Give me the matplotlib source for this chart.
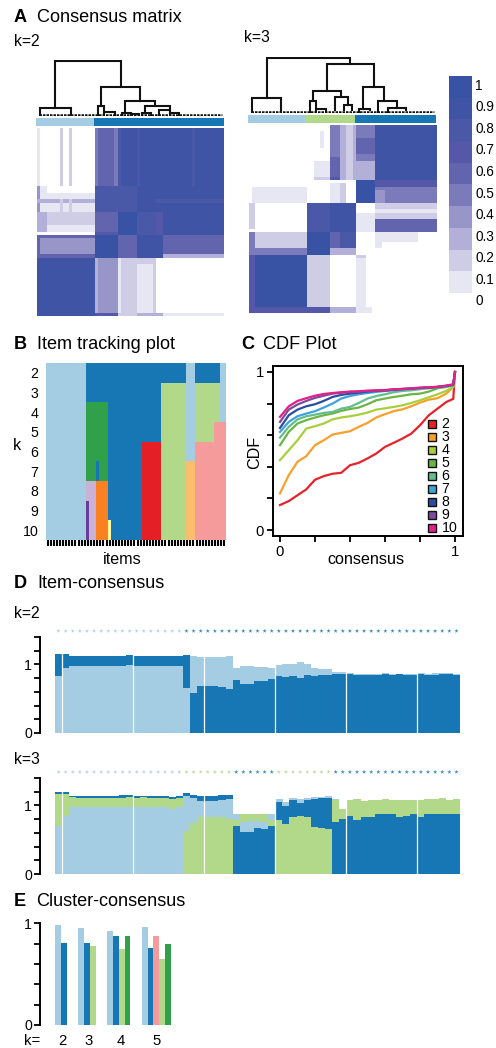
import numpy as np
import matplotlib
matplotlib.use("Agg")
import matplotlib.pyplot as plt
from matplotlib.colors import ListedColormap
from matplotlib.patches import Rectangle

plt.rcParams['font.family'] = ['Liberation Sans', 'DejaVu Sans']

W, H = 496, 1048

# cluster colours
LIGHT = "#a4cde3"
BLUE = "#1677b4"
GREEN = "#b2d88a"
DKGREEN = "#31a04a"
PINK = "#f69b9b"
RED = "#e41f26"
LTORANGE = "#fdbd6e"
ORANGE = "#f98121"
LILAC = "#c9b2d6"
PURPLE = "#6a3d9a"
YELLOW = "#fdf59c"
PALETTE = {"a": LIGHT, "b": BLUE, "c": GREEN, "d": DKGREEN, "e": PINK, "f": RED,
           "g": LTORANGE, "h": ORANGE, "i": LILAC, "j": PURPLE, "k": YELLOW}

# heatmap levels 0..10 (tenths of consensus)
HEAT_COLORS = ["#ffffff", "#e7e6f3", "#cfcde6", "#b2b0d8", "#9896c9", "#7b7abb",
               "#6364ae", "#5558a8", "#4a58a8", "#3f54a5", "#3953a4"]
legend_ticks = ["1", "0.9", "0.8", "0.7", "0.6", "0.5", "0.4", "0.3", "0.2", "0.1", "0"]

# consensus blocks: first row, last row, first col, last col, level
blocks_k2 = [
    (0, 18, 0, 1, 1), (0, 18, 7, 8, 2), (0, 18, 10, 11, 2), (0, 18, 18, 25, 6), (0, 18, 18, 19, 5),
    (0, 18, 24, 25, 5), (0, 18, 25, 58, 9), (0, 18, 25, 26, 8), (0, 18, 31, 32, 8), (0, 18, 48, 49, 8),
    (18, 26, 0, 1, 4), (18, 20, 1, 3, 1), (20, 26, 1, 18, 1),
    (22, 23, 0, 18, 3), (22, 26, 7, 8, 2), (22, 26, 10, 11, 2),
    (18, 26, 18, 25, 8), (18, 26, 25, 37, 8), (18, 26, 31, 37, 9), (18, 26, 37, 58, 9), (22, 23, 37, 58, 8),
    (26, 32, 0, 18, 2), (26, 32, 0, 3, 3), (30, 32, 3, 18, 1), (26, 33, 18, 25, 6), (26, 33, 25, 31, 10),
    (26, 33, 31, 37, 8), (26, 33, 37, 39, 7), (26, 33, 39, 58, 9),
    (33, 40, 0, 18, 4), (33, 34, 0, 18, 6), (39, 40, 0, 18, 6), (33, 40, 0, 1, 6),
    (33, 40, 18, 25, 10), (33, 40, 25, 31, 6), (33, 40, 31, 39, 9), (33, 40, 39, 58, 6),
    (39, 40, 39, 58, 3), (32, 33, 18, 25, 7),
    (40, 58, 0, 18, 9), (40, 57, 18, 19, 3), (40, 57, 19, 25, 4), (40, 57, 25, 26, 1),
    (40, 57, 26, 31, 2), (40, 57, 31, 36, 1), (40, 57, 36, 37, 2), (40, 42, 26, 36, 2),
    (57, 58, 18, 25, 7), (57, 58, 25, 31, 2), (57, 58, 31, 39, 3), (57, 58, 39, 58, 1),
]
blocks_k3 = [
    (2, 7, 22, 23, 1), (11, 17, 20, 25, 1), (0, 10, 25, 28, 5), (10, 16, 25, 28, 6), (16, 17, 25, 28, 7),
    (0, 17, 28, 33, 3), (0, 17, 30, 32, 2), (0, 17, 33, 39, 5), (4, 9, 33, 39, 6), (11, 17, 33, 39, 3),
    (0, 17, 39, 58, 9), (16, 17, 20, 25, 2),
    (19, 24, 1, 18, 1), (18, 24, 25, 28, 1), (18, 24, 28, 30, 2), (17, 24, 33, 39, 10),
    (17, 24, 39, 58, 5), (20, 24, 39, 42, 4), (17, 19, 39, 58, 7),
    (24, 32, 0, 2, 2), (24, 33, 18, 25, 8), (24, 33, 25, 33, 9), (27, 33, 33, 39, 1),
    (24, 29, 39, 58, 2), (26, 27, 39, 58, 1), (29, 33, 39, 58, 6),
    (33, 40, 0, 2, 5), (33, 39, 2, 18, 2), (33, 40, 18, 25, 10), (33, 40, 25, 28, 6), (33, 40, 28, 33, 8),
    (33, 36, 41, 52, 1), (33, 38, 39, 41, 1), (38, 40, 0, 18, 5), (38, 40, 25, 33, 3),
    (40, 58, 0, 2, 7), (40, 58, 2, 18, 10), (40, 58, 18, 25, 2), (40, 41, 33, 36, 2), (41, 56, 33, 36, 1),
    (56, 58, 0, 18, 7), (56, 58, 18, 25, 7), (56, 58, 25, 33, 3), (56, 58, 33, 38, 1),
]

# column strip above each matrix: cluster, number of items
strip_k2 = [(LIGHT, 18), (BLUE, 40)]
strip_k3 = [(LIGHT, 18), (GREEN, 15), (BLUE, 25)]

# dendrogram merges: left x, right x, height, height of left leg, height of right leg
tree_k2 = [
    (5.7, 25.9, 1.0, 0.136, 0.506), (1.0, 10.5, 0.136, 0.0, 0.0), (19.8, 32.0, 0.506, 0.17, 0.265),
    (18.8, 20.9, 0.17, 0.0, 0.05), (20.9, 24.2, 0.05, 0.0, 0.0), (27.2, 36.6, 0.265, 0.04, 0.17),
    (26.5, 29.0, 0.04, 0.0, 0.0), (29.0, 31.5, 0.025, 0.0, 0.0), (33.6, 41.2, 0.17, 0.03, 0.09),
    (32.5, 35.5, 0.03, 0.0, 0.0), (37.7, 41.2, 0.09, 0.0, 0.03), (41.2, 44.0, 0.03, 0.0, 0.0),
]
tree_k3 = [
    (5.5, 31.4, 1.0, 0.264, 0.883), (0.9, 10.0, 0.264, 0.0, 0.0), (24.1, 38.7, 0.883, 0.38, 0.466),
    (19.8, 28.6, 0.38, 0.2, 0.276), (18.9, 20.9, 0.2, 0.0, 0.06), (20.9, 24.0, 0.06, 0.0, 0.0),
    (26.8, 30.7, 0.276, 0.03, 0.12), (29.5, 31.9, 0.12, 0.03, 0.03), (35.4, 41.9, 0.466, 0.06, 0.2),
    (34.2, 37.5, 0.06, 0.0, 0.03), (40.1, 45.8, 0.2, 0.0, 0.08), (43.2, 48.6, 0.08, 0.0, 0.03),
]

# item tracking: items per span, cluster for k=2..10
track_sizes = [13, 1, 2, 1, 3, 1, 10, 6, 8, 3, 6, 2, 2]
track_spans = ["aaaaaaaaa", "bbddddijj", "bbddddiii", "bbdddbhhh", "bbddddhhh", "bbbbbbbbk", "bbbbbbbbb",
               "bbbbfffff", "bcccccccc", "aaaaagggg", "bccceeeee", "bcceeeeee", "aaaeeeeee"]
track_k = ["2", "3", "4", "5", "6", "7", "8", "9", "10"]

# CDF curves
cdf_x = [0, .05, .1, .15, .2, .25, .3, .35, .4, .45, .5, .55, .6, .65, .7, .75, .8, .85, .9, .95, .99, 1]
cdf_2 = [.158, .183, .22, .257, .318, .341, .356, .362, .41, .425, .453, .484, .526, .552, .579, .61, .663, .726, .768, .81, .83, 1]
cdf_3 = [.232, .347, .432, .467, .537, .568, .604, .615, .625, .653, .678, .712, .733, .752, .764, .783, .806, .825, .834, .863, .905, 1]
cdf_4 = [.442, .505, .568, .642, .657, .674, .70, .712, .72, .73, .743, .762, .77, .779, .789, .804, .821, .84, .859, .88, .905, 1]
cdf_5 = [.537, .621, .674, .695, .712, .726, .737, .754, .766, .775, .796, .821, .832, .842, .85, .859, .863, .876, .897, .905, .916, 1]
cdf_6 = [.585, .653, .70, .72, .73, .741, .747, .768, .779, .804, .832, .848, .859, .872, .88, .884, .891, .897, .905, .909, .916, 1]
cdf_7 = [.621, .684, .72, .737, .752, .775, .80, .832, .848, .859, .867, .874, .88, .884, .888, .893, .897, .901, .905, .909, .916, 1]
cdf_8 = [.646, .726, .762, .783, .796, .817, .842, .855, .863, .869, .876, .88, .884, .888, .893, .895, .899, .901, .905, .912, .92, 1]
cdf_9 = [.684, .762, .794, .817, .836, .85, .863, .869, .874, .876, .88, .882, .884, .888, .891, .895, .899, .901, .905, .912, .92, 1]
cdf_10 = [.716, .783, .817, .834, .85, .861, .867, .872, .876, .878, .882, .884, .886, .891, .893, .897, .901, .903, .907, .914, .922, 1]
cdf_curves = [cdf_2, cdf_3, cdf_4, cdf_5, cdf_6, cdf_7, cdf_8, cdf_9, cdf_10]
cdf_labels = ["2", "3", "4", "5", "6", "7", "8", "9", "10"]
cdf_colors = ["#e7232a", "#f7a02c", "#a8cf3c", "#6ab544", "#63bd8f", "#3ea3d9", "#2a4d9f", "#7b4b9e", "#e0218a"]

# item consensus k=2: cumulative tops of the stacked segments
ic2_order = ["ab"] * 19 + ["ba"] * 38
ic2_dots = ["a"] * 18 + ["b"] * 39
ic2_first = [.834, .951, .98, .98, .98, .98, .98, .98, .98, .98, .995, .98, .98, .98, .98, .98, .98, .98, .659,
             .585, .688, .688, .688, .673, .644, .776, .717, .717, .761, .761, .79, .834, .82, .834, .805, .849,
             .834, .849, .849, .863, .863, .863, .849, .849, .849, .849, .863, .849, .863, .849, .849, .863,
             .849, .849, .863, .863, .849]
ic2_top = [1.156, 1.156, 1.127, 1.127, 1.127, 1.127, 1.127, 1.127, 1.127, 1.127, 1.141, 1.127, 1.127, 1.127, 1.127,
           1.127, 1.127, 1.127, 1.141, 1.127, 1.112, 1.112, 1.112, 1.112, 1.127, .951, .98, .98, .966, .966, .951,
           .995, 1.01, 1.01, 1.039, 1.01, .951, .937, .937, .893, .893, .878, .863, .863, .863, .863, .873, .863,
           .863, .863, .863, .878, .863, .873, .878, .878, .863]

# item consensus k=3: order of the segments and cumulative tops
ic3_order = ["acb"] * 18 + ["cab"] * 7 + ["bca", "bac", "bac", "bac", "bac", "bca"] + ["cba"] * 8 + ["bca"] * 18
ic3_dots = ["a"] * 18 + ["c"] * 7 + ["b"] * 6 + ["c"] * 8 + ["b"] * 18
ic3_first = [.706, .853, .97, .97, .97, .97, .97, .97, .97, .97, .98, .97, .97, .97, .97, .97, .951, .97,
             .632, .75, .824, .824, .824, .824, .809,
             .706, .618, .618, .676, .662, .706,
             .794, .735, .824, .853, .824, .691, .676, .662,
             .765, .809, .853, .794, .824, .824, .868, .868, .868, .824, .853, .868, .824, .868, .868, .868, .868, .868]
ic3_second = [1.16, 1.16, 1.118, 1.103, 1.103, 1.103, 1.103, 1.103, 1.103, 1.103, 1.118, 1.103, 1.118, 1.103, 1.103,
              1.103, 1.088, 1.103,
              1.132, 1.103, 1.059, 1.059, 1.059, 1.074, 1.088,
              .794, .765, .78, .78, .765, .794,
              1.044, .985, 1.074, 1.029, 1.074, 1.088, 1.103, 1.103,
              1.074, .941, 1.074, 1.088, 1.059, 1.074, 1.074, 1.088, 1.074, 1.074, 1.074, 1.074, 1.074, 1.088, 1.088,
              1.103, 1.074, 1.088]
ic3_top = [1.19, 1.19, 1.132, 1.132, 1.132, 1.132, 1.132, 1.132, 1.132, 1.147, 1.147, 1.132, 1.132, 1.132, 1.132,
           1.132, 1.118, 1.132,
           1.176, 1.147, 1.132, 1.132, 1.132, 1.147, 1.147,
           .882, .868, .882, .868, .868, .868,
           1.088, 1.044, 1.103, 1.088, 1.103, 1.118, 1.118, 1.132,
           1.088, .941, 1.074, 1.088, 1.059, 1.074, 1.074, 1.088, 1.074, 1.074, 1.074, 1.074, 1.074, 1.088, 1.088,
           1.103, 1.074, 1.088]
IC_COLORS = {"a": LIGHT, "b": BLUE, "c": GREEN}

# cluster consensus
cc_k = ["2", "3", "4", "5"]
cc_values = [[.984, .803], [.957, .803, .774], [.925, .879, .748, .875], [.964, .761, .875, .646, .80]]
cc_colors = [[LIGHT, BLUE], [LIGHT, BLUE, GREEN], [LIGHT, BLUE, GREEN, DKGREEN], [LIGHT, BLUE, PINK, GREEN, DKGREEN]]

FS = 13.1
FS_K = 11.3
FS_LABEL = 11.6
FS_TICK = 10.2


def axes_px(x0, y0, x1, y1):
    # axes from pixel box, y counted from the top
    return fig.add_axes([x0 / W, 1 - y1 / H, (x1 - x0) / W, (y1 - y0) / H])


def text_px(x, y, s, **kw):
    kw.setdefault("fontsize", FS)
    kw.setdefault("va", "center")
    fig.text(x / W, 1 - y / H, s, **kw)


def panel_title(x_letter, x_title, y, letter, title):
    text_px(x_letter, y, letter, fontweight="bold")
    text_px(x_title, y, title)


def draw_matrix(ax, blocks):
    mat = np.zeros((58, 58))
    for r0, r1, c0, c1, lev in blocks:
        mat[r0:r1, c0:c1] = lev
    ax.imshow(mat, cmap=ListedColormap(HEAT_COLORS), vmin=-0.5, vmax=10.5, aspect="auto", interpolation="nearest")
    ax.axis("off")


def draw_strip(ax, strip):
    left = 0
    for color, n in strip:
        ax.barh(0, n, left=left, height=1, color=color)
        left += n
    ax.set_xlim(0, 58)
    ax.set_ylim(-0.5, 0.5)
    ax.axis("off")


def draw_tree(ax, tree):
    for xl, xr, h, hl, hr in tree:
        ax.plot([xl, xl, xr, xr], [hl, h, h, hr], color="#111111", lw=1.5, solid_joinstyle="miter")
    # leaves along the base
    ax.plot(np.arange(0.5, 58, 1), np.zeros(58), color="#111111", lw=1.8, ls=(0, (1.0, 0.4)))
    ax.set_xlim(0, 58)
    ax.set_ylim(-0.02, 1.01)
    ax.axis("off")


def style_left_axis(ax):
    for s in ["top", "right", "bottom"]:
        ax.spines[s].set_visible(False)
    ax.spines["left"].set_linewidth(1.4)
    ax.spines["left"].set_position(("outward", 10.8))
    ax.set_xticks([])
    ax.tick_params(axis="y", length=4, width=1.3, labelsize=FS_TICK, pad=1.5)


def draw_item_consensus(ax, order, cols):
    xs = np.arange(len(order))
    for i in xs:
        bottom = 0
        for c, col in zip(order[i], cols):
            top = col[i]
            if top > bottom:
                ax.bar(i, top - bottom, bottom=bottom, width=1.02, align="edge", color=IC_COLORS[c], lw=0)
            bottom = top
    for b in [1, 11, 21, 31, 41, 51]:
        ax.axvline(b, color="white", lw=0.9)
    ax.set_xlim(0, len(order))
    ax.set_ylim(0, 1.4)
    ax.set_yticks([0, .2, .4, .6, .8, 1, 1.2, 1.4], ["0", "", "", "", "", "1", "", ""])
    style_left_axis(ax)


def draw_dots(ax, order):
    colors = [IC_COLORS[c] for c in order]
    ax.scatter(np.arange(len(order)) + 0.5, np.zeros(len(order)), marker="*", s=10, c=colors, linewidths=0, alpha=0.85)
    ax.set_xlim(0, len(order))
    ax.axis("off")


fig = plt.figure(figsize=(W / 100, H / 100), dpi=100, facecolor="white")

# A: consensus matrices
panel_title(14, 37, 18, "A", "Consensus matrix")
text_px(14, 42, "k=2", fontsize=FS_K)
text_px(244, 37, "k=3", fontsize=FS_K)

draw_tree(axes_px(37, 60, 224, 116), tree_k2)
draw_strip(axes_px(36, 118, 224, 126), strip_k2)
draw_matrix(axes_px(37, 128, 224, 316), blocks_k2)

draw_tree(axes_px(249, 57, 436, 113), tree_k3)
draw_strip(axes_px(248, 115, 436, 123), strip_k3)
draw_matrix(axes_px(249, 125, 436, 313), blocks_k3)

cax = axes_px(449, 76, 472, 293)
cax.imshow(np.arange(10, 0, -1).reshape(-1, 1), cmap=ListedColormap(HEAT_COLORS), vmin=-0.5, vmax=10.5,
           aspect="auto", interpolation="nearest")
cax.axis("off")
for i, lab in enumerate(legend_ticks):
    text_px(475, 85.7 + i * 21.56, lab, fontsize=FS_TICK - 0.4)

# B: item tracking
panel_title(14, 37, 345, "B", "Item tracking plot")
ax = axes_px(46, 363, 226, 540)
left = 0
for n, span in zip(track_sizes, track_spans):
    for row, c in enumerate(span):
        ax.bar(left, 1, bottom=row, width=n, align="edge", color=PALETTE[c], lw=0)
    left += n
ax.set_xlim(0, 58)
ax.set_ylim(9, 0)
ax.set_yticks(np.arange(9) + 0.5, track_k)
ax.set_xticks(np.arange(58) + 0.5, [""] * 58)
ax.tick_params(axis="y", length=0, labelsize=FS_TICK, pad=5.5)
ax.tick_params(axis="x", length=4.3, width=1.5, pad=0)
for s in ax.spines.values():
    s.set_visible(False)
text_px(122, 559, "items", ha="center", fontsize=FS_LABEL)
text_px(17, 445, "k", ha="center", fontsize=FS_LABEL)

# C: CDF
panel_title(241, 263, 345, "C", "CDF Plot")
ax = axes_px(273, 366, 463, 536)
for vals, col in zip(cdf_curves, cdf_colors):
    ax.plot(cdf_x, vals, color=col, lw=1.6, solid_joinstyle="round")
ax.set_xlim(-7 / 175, 1 + 8 / 175)
ax.set_ylim(-6 / 158, 1 + 6 / 158)
ax.set_xticks([0, .2, .4, .6, .8, 1], ["0", "", "", "", "", "1"])
ax.set_yticks([0, .2, .4, .6, .8, 1], ["0", "", "", "", "", "1"])
ax.tick_params(length=4, width=1.3, labelsize=FS_TICK + 0.5, pad=2.5)
for s in ax.spines.values():
    s.set_linewidth(1.4)
text_px(366, 559, "consensus", ha="center", fontsize=FS_LABEL)
text_px(255, 452, "CDF", ha="center", rotation=90, fontsize=FS_LABEL)
legax = axes_px(425, 415, 462, 535)
legax.set_xlim(425, 462)
legax.set_ylim(535, 415)
legax.axis("off")
for i, (c, l) in enumerate(zip(cdf_colors, cdf_labels)):
    yc = 423.7 + i * 13.1
    legax.add_patch(Rectangle((428, yc - 4), 8.5, 8, facecolor=c, edgecolor="#111111", lw=1.0))
    legax.text(441.5, yc, l, va="center", fontsize=FS_TICK)

# D: item consensus
panel_title(14, 37, 584, "D", "Item-consensus")
text_px(14, 613, "k=2", fontsize=FS_K)
draw_dots(axes_px(55, 627, 460, 635), ic2_dots)
draw_item_consensus(axes_px(55, 637, 460, 733), ic2_order, [ic2_first, ic2_top])

text_px(14, 759, "k=3", fontsize=FS_K)
draw_dots(axes_px(55, 768, 460, 776), ic3_dots)
draw_item_consensus(axes_px(55, 778, 460, 874), ic3_order, [ic3_first, ic3_second, ic3_top])

# E: cluster consensus
panel_title(14, 36, 901, "E", "Cluster-consensus")
ax = axes_px(55, 923.3, 180, 1025)
group_left = [55, 78.3, 107, 141.7]
for gl, vals, cols in zip(group_left, cc_values, cc_colors):
    ax.bar(gl + np.arange(len(vals)) * 5.87, vals, width=5.87, align="edge", color=cols, lw=0)
ax.set_xlim(55, 180)
ax.set_ylim(0, 1)
ax.set_yticks([0, .2, .4, .6, .8, 1], ["0", "", "", "", "", "1"])
style_left_axis(ax)
text_px(32, 1041, "k=", ha="center", fontsize=FS_TICK + 0.5)
for x, lab in zip([62, 89, 121, 157], cc_k):
    text_px(x, 1041, lab, ha="center", fontsize=FS_TICK + 0.5)

fig.savefig("out.png", dpi=100)
